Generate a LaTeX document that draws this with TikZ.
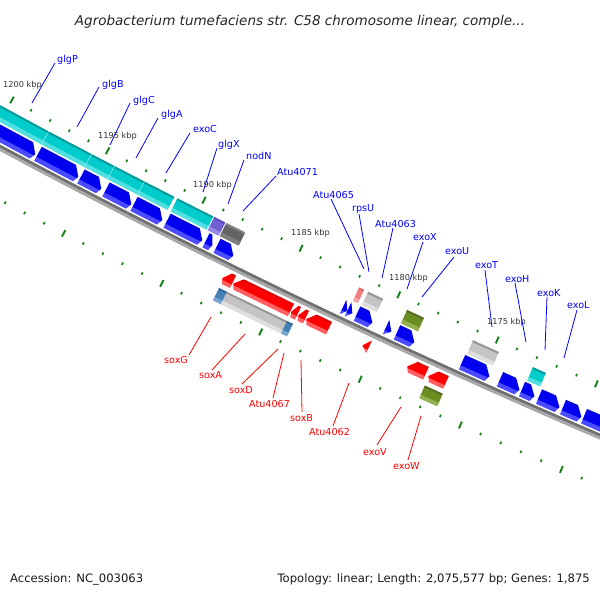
\documentclass[tikz,border=0pt]{standalone}
\usepackage{fontspec}
\setmainfont{DejaVu Sans}[ItalicFont={DejaVu Sans Oblique}]
\definecolor{tickg}{RGB}{20,130,20}
\definecolor{bbd}{RGB}{112,112,112}
\definecolor{bbl}{RGB}{168,168,168}
\definecolor{bluet}{RGB}{0,0,225}
\definecolor{bluem}{RGB}{0,0,240}
\definecolor{bluel}{RGB}{75,75,255}
\definecolor{redt}{RGB}{225,0,0}
\definecolor{redm}{RGB}{255,0,0}
\definecolor{redl}{RGB}{255,95,95}
\definecolor{cyant}{RGB}{0,155,155}
\definecolor{cyanm}{RGB}{0,204,204}
\definecolor{cyanl}{RGB}{80,224,224}
\definecolor{grayt}{RGB}{150,150,150}
\definecolor{graym}{RGB}{196,196,196}
\definecolor{grayl}{RGB}{222,222,222}
\definecolor{dgrayt}{RGB}{130,130,130}
\definecolor{dgraym}{RGB}{100,100,100}
\definecolor{dgrayl}{RGB}{125,125,125}
\definecolor{purt}{RGB}{95,80,190}
\definecolor{purm}{RGB}{112,96,208}
\definecolor{purl}{RGB}{150,135,230}
\definecolor{stt}{RGB}{55,105,150}
\definecolor{stm}{RGB}{70,128,180}
\definecolor{stl}{RGB}{120,165,205}
\definecolor{olt}{RGB}{85,107,30}
\definecolor{olm}{RGB}{107,142,35}
\definecolor{oll}{RGB}{148,176,80}
\definecolor{pkt}{RGB}{220,100,100}
\definecolor{pkm}{RGB}{240,128,128}
\definecolor{pkl}{RGB}{246,165,165}
\definecolor{labblue}{RGB}{0,0,255}
\definecolor{labred}{RGB}{255,0,0}
\makeatletter
\def\gcs@parse#1,#2\@nil{\def\gcs@t{#1}\def\gcs@s{#2}}
\tikzdeclarecoordinatesystem{gm}{%
  \gcs@parse#1\@nil
  \pgfmathsetmacro\gcs@x{12+95.3*(\gcs@t)+0.35*(\gcs@t)*(\gcs@t)+(\gcs@s)*(-45.8+1.8*(\gcs@t))}%
  \pgfmathsetmacro\gcs@y{100+51.5*(\gcs@t)-0.7*(\gcs@t)*(\gcs@t)+(\gcs@s)*(82+0.6*(\gcs@t))}%
  \pgfpoint{\gcs@x pt}{-\gcs@y pt}%
}
\makeatother
\newcommand\gxt[3]{%
  \pgfmathsetmacro\gxa{12-45.8*(#3)}%
  \pgfmathsetmacro\gxb{95.3+1.8*(#3)}%
  \pgfmathsetmacro#1{(-\gxb+sqrt(\gxb*\gxb+1.4*((#2)-\gxa)))/0.7}%
}
% type: 0 fwd arrow, 1 rev arrow, 2 box, 3 fwd triangle, 4 rev triangle
\newcommand\gene[8]{%
  \pgfmathsetmacro\gsm{((#4)+(#5))/2}%
  \gxt\gta{#2}{\gsm}%
  \gxt\gtb{#3}{\gsm}%
  \pgfmathsetmacro\gd{(#5)-(#4)}%
  \pgfmathsetmacro\gh{min(0.07,0.6*(\gtb-\gta))}%
  \pgfmathsetmacro\gsa{(#4)+0.15*\gd}%
  \pgfmathsetmacro\gsb{(#4)+0.72*\gd}%
  \pgfmathsetmacro\gtp{(#4)+0.6*\gd}%
  \pgfmathsetmacro\gu{\gta-0.1}%
  \pgfmathsetmacro\gv{\gtb+0.1}%
  \begin{scope}
  \ifcase#1
    \clip (gm cs:\gta,#4) -- (gm cs:\gtb-\gh,#4) -- (gm cs:\gtb,\gtp) -- (gm cs:\gtb-0.35*\gh,#5) -- (gm cs:\gta,#5) -- cycle;
  \or
    \clip (gm cs:\gtb,#4) -- (gm cs:\gta+\gh,#4) -- (gm cs:\gta,\gtp) -- (gm cs:\gta+0.35*\gh,#5) -- (gm cs:\gtb,#5) -- cycle;
  \or
    \clip (gm cs:\gta,#4) -- (gm cs:\gtb,#4) -- (gm cs:\gtb,#5) -- (gm cs:\gta,#5) -- cycle;
  \or
    \clip (gm cs:\gta,#4) -- (gm cs:\gtb,\gtp) -- (gm cs:\gta,#5) -- cycle;
  \or
    \clip (gm cs:\gtb,#4) -- (gm cs:\gta,\gtp) -- (gm cs:\gtb,#5) -- cycle;
  \fi
  \fill[#6] (gm cs:\gu,#4-0.02) -- (gm cs:\gv,#4-0.02) -- (gm cs:\gv,\gsa+0.005) -- (gm cs:\gu,\gsa+0.005) -- cycle;
  \fill[#7] (gm cs:\gu,\gsa) -- (gm cs:\gv,\gsa) -- (gm cs:\gv,\gsb+0.005) -- (gm cs:\gu,\gsb+0.005) -- cycle;
  \fill[#8] (gm cs:\gu,\gsb) -- (gm cs:\gv,\gsb) -- (gm cs:\gv,#5+0.02) -- (gm cs:\gu,#5+0.02) -- cycle;
  \end{scope}
}
\tikzset{
  blabel/.style={font=\fontsize{9.6}{11}\selectfont, text=labblue, inner sep=0pt, anchor=base west},
  rlabel/.style={font=\fontsize{9.6}{11}\selectfont, text=labred, inner sep=0pt, anchor=base west},
  klabel/.style={font=\fontsize{8.2}{9}\selectfont, text=black!80, inner sep=0pt, anchor=base west},
  bline/.style={draw=labblue, line width=0.8pt},
  rline/.style={draw=labred, line width=0.8pt},
  majtick/.style={draw=tickg, line width=1.9pt},
  mintick/.style={draw=tickg, line width=1.7pt},
}
\newcommand\blab[8]{\node[blabel] (#1) at (#3,#4) {#2};
  \coordinate (#1a) at (#5,#6); \coordinate (#1b) at (#7,#8); \draw[bline] (#1a) -- (#1b);}
\newcommand\rlab[8]{\node[rlabel] (#1) at (#3,#4) {#2};
  \coordinate (#1a) at (#5,#6); \coordinate (#1b) at (#7,#8); \draw[rline] (#1a) -- (#1b);}
\begin{document}
\begin{tikzpicture}[x=1pt,y=-1pt]
\useasboundingbox (0,0) rectangle (600,600);
\fill[white] (0,0) rectangle (600,600);
\begin{scope}
\clip (0,0) rectangle (600,600);
% ticks
\foreach \k in {-2,...,33}{
  \pgfmathsetmacro\tk{\k/5}
  \pgfmathtruncatemacro\km{mod(\k+100,5)}
  \ifnum\km=0
    \draw[majtick] (gm cs:\tk,-0.04) -- (gm cs:\tk,0.04);
  \else
    \draw[mintick] (gm cs:\tk,-0.014) -- (gm cs:\tk,0.014);
  \fi
}
\foreach \k in {1,...,35}{
  \pgfmathsetmacro\tk{\k/5}
  \pgfmathtruncatemacro\km{mod(\k+100,5)}
  \ifnum\km=0
    \draw[majtick] (gm cs:\tk,0.96) -- (gm cs:\tk,1.04);
  \else
    \draw[mintick] (gm cs:\tk,0.986) -- (gm cs:\tk,1.014);
  \fi
}
% backbone
\fill[bbd] plot[domain=-0.6:7,samples=40] (gm cs:\x,0.478) -- plot[domain=7:-0.6,samples=40] (gm cs:\x,0.51) -- cycle;
\fill[bbl] plot[domain=-0.6:7,samples=40] (gm cs:\x,0.509) -- plot[domain=7:-0.6,samples=40] (gm cs:\x,0.54) -- cycle;
% upper track
\gene{2}{-40}{45}{0.11}{0.27}{cyant}{cyanm}{cyanl}
\gene{2}{45}{88}{0.11}{0.27}{cyant}{cyanm}{cyanl}
\gene{2}{88}{111}{0.11}{0.27}{cyant}{cyanm}{cyanl}
\gene{2}{111}{141}{0.11}{0.27}{cyant}{cyanm}{cyanl}
\gene{2}{141}{171}{0.11}{0.27}{cyant}{cyanm}{cyanl}
\foreach \bx in {45,88,111,141}{
  \gxt\tb{\bx}{0.19}
  \draw[cyanl!60!white, line width=0.5pt] (gm cs:\tb,0.11) -- (gm cs:\tb,0.27);
}
\gene{2}{174}{210}{0.11}{0.27}{cyant}{cyanm}{cyanl}
\gene{2}{211}{222}{0.11}{0.27}{purt}{purm}{purl}
\gene{2}{223}{242}{0.11}{0.27}{dgrayt}{dgraym}{dgrayl}
\gene{2}{356}{361}{0.11}{0.27}{pkt}{pkm}{pkl}
\gene{2}{365}{380}{0.11}{0.27}{grayt}{graym}{grayl}
\gene{2}{404}{421}{0.11}{0.27}{olt}{olm}{oll}
\gene{2}{470}{496}{0.11}{0.27}{grayt}{graym}{grayl}
\gene{2}{530}{543}{0.11}{0.27}{cyant}{cyanm}{cyanl}
% forward track
\foreach \a/\b in {-30/36,38/79,81/102,106/132,134/163,167/203,206/213,217/234,357/373,397/415,462/490,500/520,522/535,539/560,563/582,584/625}{
  \gene{0}{\a}{\b}{0.29}{0.46}{bluet}{bluem}{bluel}
}
\foreach \a/\b in {343/348,348/353,386/392}{
  \gene{3}{\a}{\b}{0.29}{0.46}{bluet}{bluem}{bluel}
}
% reverse track
\foreach \a/\b in {223/233,234/291,292/298,299/306,307/329,408/426,429/446}{
  \gene{1}{\a}{\b}{0.57}{0.72}{redt}{redm}{redl}
}
\gene{4}{363}{369}{0.57}{0.72}{redt}{redm}{redl}
% lower track
\gene{2}{216}{224}{0.77}{0.92}{stt}{stm}{stl}
\gene{2}{224}{284}{0.77}{0.92}{grayt}{graym}{grayl}
\gene{2}{284}{290}{0.77}{0.92}{stt}{stm}{stl}
\gene{2}{422}{440}{0.77}{0.92}{olt}{olm}{oll}
\end{scope}
% tick labels
\node[klabel] (k1200) at (3,87) {1200 kbp};
\node[klabel] (k1195) at (98,138) {1195 kbp};
\node[klabel] (k1190) at (193,187) {1190 kbp};
\node[klabel] (k1185) at (291,235) {1185 kbp};
\node[klabel] (k1180) at (389,280) {1180 kbp};
\node[klabel] (k1175) at (487,324) {1175 kbp};
% upper labels
\blab{glgP}{glgP}{57}{62}{55}{63}{32}{103}
\blab{glgB}{glgB}{102}{87}{99}{87}{77}{127}
\blab{glgC}{glgC}{133}{103}{130}{103}{110}{145}
\blab{glgA}{glgA}{161}{117}{158}{118}{136}{158}
\blab{exoC}{exoC}{193}{132}{190}{133}{166}{173}
\blab{glgX}{glgX}{218}{147}{217}{148}{203}{192}
\blab{nodN}{nodN}{246}{159}{244}{160}{228}{204}
\blab{Atu4071}{Atu4071}{277}{175}{276}{176}{243}{211}
\blab{Atu4065}{Atu4065}{313}{198}{331}{199}{364}{269}
\blab{rpsU}{rpsU}{352}{211}{359}{214}{369}{272}
\blab{Atu4063}{Atu4063}{375}{227}{393}{228}{382}{278}
\blab{exoX}{exoX}{413}{240}{423}{242}{407}{289}
\blab{exoU}{exoU}{445}{254}{454}{257}{422}{297}
\blab{exoT}{exoT}{475}{268}{485}{270}{492}{327}
\blab{exoH}{exoH}{505}{282}{515}{283}{526}{342}
\blab{exoK}{exoK}{537}{296}{547}{297}{545}{350}
\blab{exoL}{exoL}{567}{308}{577}{310}{564}{358}
% lower labels
\rlab{soxG}{soxG}{164}{363}{189}{355}{211}{317}
\rlab{soxA}{soxA}{199}{378}{212}{370}{245}{334}
\rlab{soxD}{soxD}{229}{393}{242}{384}{278}{349}
\rlab{Atu4067}{Atu4067}{249}{407}{273}{398}{284}{353}
\rlab{soxB}{soxB}{290}{421}{302}{412}{301}{360}
\rlab{Atu4062}{Atu4062}{309}{435}{333}{426}{349}{383}
\rlab{exoV}{exoV}{363}{455}{377}{445}{401}{407}
\rlab{exoW}{exoW}{393}{469}{408}{460}{421}{416}
% title and footer
\node[font=\fontsize{13.5}{16}\selectfont\itshape, text=black!85, anchor=base, inner sep=0pt] (title) at (300,25) {Agrobacterium tumefaciens str. C58 chromosome linear, comple...};
\node[font=\fontsize{11.6}{14}\selectfont, text=black!90, anchor=base west, inner sep=0pt] (acc) at (10,582) {Accession: NC\_003063};
\node[font=\fontsize{11.6}{14}\selectfont, text=black!90, anchor=base east, inner sep=0pt] (topo) at (590,582) {Topology: linear; Length: 2,075,577 bp; Genes: 1,875};
\end{tikzpicture}
\end{document}
